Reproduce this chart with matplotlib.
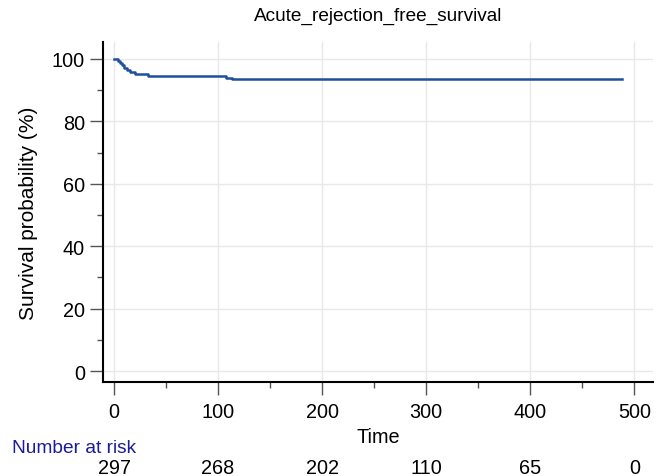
import matplotlib
matplotlib.use("Agg")
import matplotlib.pyplot as plt
import matplotlib.transforms as mtrans
from matplotlib.ticker import MultipleLocator

plt.rcParams['font.family'] = ['Liberation Sans', 'DejaVu Sans']

times = [0, 4, 6, 8, 10, 12, 15, 20, 33, 108, 113, 488]
surv = [100, 99.3, 98.6, 97.9, 97.2, 96.5, 95.8, 95.1, 94.4, 94.0, 93.6, 93.6]
risk_times = [0, 100, 200, 300, 400, 500]
risk_counts = [297, 268, 202, 110, 65, 0]

W, H = 664, 477
FS = 14.3
fig = plt.figure(figsize=(W / 100, H / 100), dpi=100)
ax = fig.add_axes([103 / W, (H - 383) / H, (653 - 103) / W, (383 - 43) / H])

ax.step(times, surv, where='post', color='#1f4e9c', lw=1.8, zorder=3)

ax.set_xlim(-10.6, 518)
ax.set_ylim(-3.5, 105.4)
ax.xaxis.set_major_locator(MultipleLocator(100))
ax.xaxis.set_minor_locator(MultipleLocator(50))
ax.yaxis.set_major_locator(MultipleLocator(20))
ax.yaxis.set_minor_locator(MultipleLocator(10))
ax.grid(True, which='major', color='#e8e8e8', lw=1.0, zorder=0)

for s in ['top', 'right']:
    ax.spines[s].set_visible(False)
for s in ['left', 'bottom']:
    ax.spines[s].set_linewidth(1.5)
    ax.spines[s].set_color('black')

ax.tick_params(which='major', length=9.5, width=1.0, color='#555555', labelsize=FS)
ax.tick_params(which='minor', length=4, width=1.0, color='#555555')
ax.tick_params(axis='y', which='major', pad=3.5)
ax.tick_params(axis='x', which='major', pad=5)

ax.set_title('Acute_rejection_free_survival', fontsize=13.7, pad=16)
ax.set_ylabel('Survival probability (%)', fontsize=15, labelpad=10)
ax.set_xlabel('Time', fontsize=FS, labelpad=4)

fig.text(12 / W, 1 - 448.5 / H, 'Number at risk', color='#1a1a9c', fontsize=13.8,
         ha='left', va='center')
row = mtrans.blended_transform_factory(ax.transData, fig.transFigure)
for t, n in zip(risk_times, risk_counts):
    ax.text(t, 1 - 469 / H, str(n), transform=row, fontsize=FS,
            ha='center', va='center')

fig.savefig('out.png', dpi=100)
